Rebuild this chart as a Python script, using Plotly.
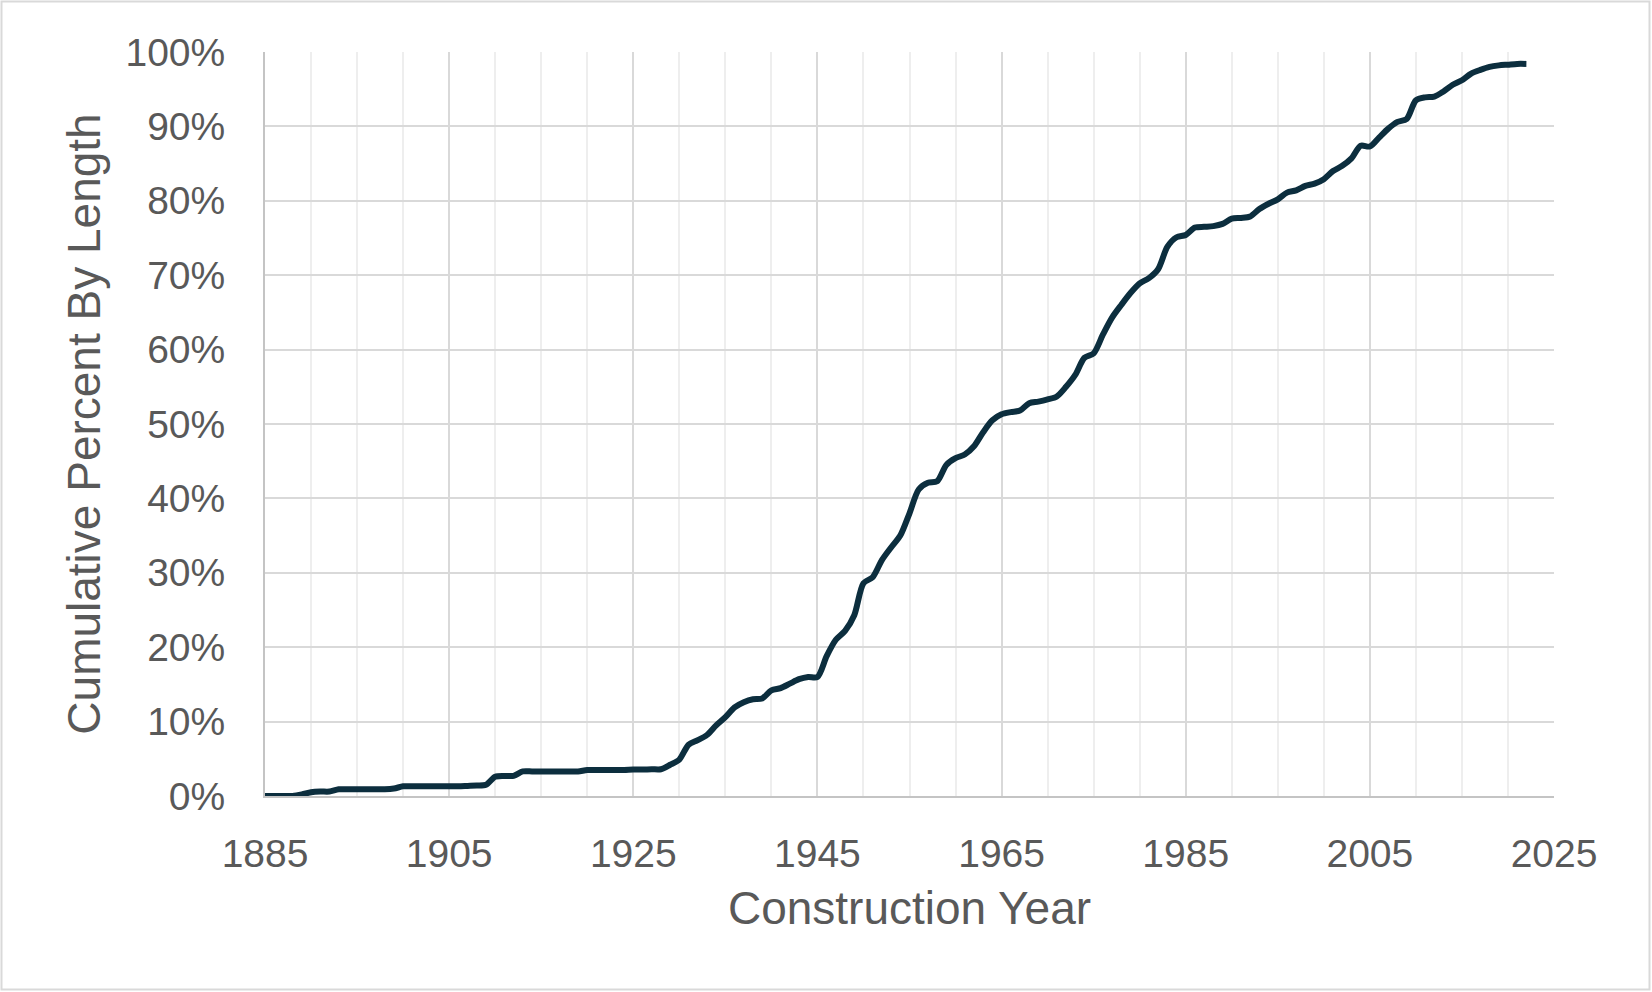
import plotly.graph_objects as go

years = list(range(1885, 2023))
cum_pct = [
    0.0, 0.0, 0.0, 0.0, 0.2, 0.5, 0.6, 0.6, 0.9, 0.9,   # 1885-1894
    0.9, 0.9, 0.9, 0.9, 1.0, 1.3, 1.3, 1.3, 1.3, 1.3,   # 1895-1904
    1.3, 1.3, 1.35, 1.4, 1.5, 2.6, 2.7, 2.7, 3.3, 3.3,  # 1905-1914
    3.3, 3.3, 3.3, 3.3, 3.3, 3.5, 3.5, 3.5, 3.5, 3.5,   # 1915-1924
    3.55, 3.55, 3.6, 3.6, 4.2, 4.9, 6.9, 7.5, 8.2, 9.5, # 1925-1934
    10.6, 11.9, 12.6, 13.0, 13.1, 14.2, 14.5, 15.1, 15.7, 16.0,  # 1935-1944
    16.0, 18.8, 21.0, 22.2, 24.3, 28.6, 29.4, 31.7, 33.4, 35.0,  # 1945-1954
    38.0, 41.2, 42.1, 42.3, 44.5, 45.4, 45.9, 47.0, 48.9, 50.5,  # 1955-1964
    51.3, 51.6, 51.8, 52.8, 53.0, 53.3, 53.7, 55.0, 56.6, 58.9,  # 1965-1974
    59.5, 62.0, 64.3, 66.0, 67.6, 68.9, 69.6, 70.8, 73.8, 75.1,  # 1975-1984
    75.4, 76.4, 76.5, 76.6, 76.9, 77.6, 77.7, 77.9, 78.9, 79.6,  # 1985-1994
    80.2, 81.1, 81.4, 82.0, 82.3, 82.9, 84.0, 84.7, 85.7, 87.4,  # 1995-2004
    87.3, 88.5, 89.7, 90.6, 91.0, 93.5, 93.9, 94.0, 94.7, 95.6,  # 2005-2014
    96.2, 97.1, 97.6, 98.0, 98.2, 98.3, 98.4, 98.4,              # 2015-2022
]
x_ticks = [1885, 1905, 1925, 1945, 1965, 1985, 2005, 2025]
y_ticks = [0, 10, 20, 30, 40, 50, 60, 70, 80, 90, 100]
y_tick_labels = [f"{v}%" for v in y_ticks]

W, H = 1652, 992
ML, MR, MT, MB = 265, 98, 52, 196

fig = go.Figure()
fig.add_trace(go.Scatter(
    x=years, y=cum_pct, mode="lines",
    line=dict(color="#0c2e3e", width=6, shape="spline", smoothing=0.8),
    showlegend=False, hoverinfo="skip",
))

font_color = "#595959"
fig.update_layout(
    width=W, height=H,
    margin=dict(l=ML, r=MR, t=MT, b=MB),
    paper_bgcolor="white", plot_bgcolor="white",
    font=dict(family="Liberation Sans, Arial, sans-serif", color=font_color),
    showlegend=False,
)
fig.update_xaxes(
    range=[1885, 2025], tickvals=x_ticks, ticktext=[str(v) for v in x_ticks],
    tickfont=dict(size=39, color=font_color),
    showgrid=True, gridcolor="#d9d9d9", gridwidth=2,
    minor=dict(dtick=5, tick0=1885, showgrid=True, gridcolor="#eeeeee", gridwidth=2),
    showline=True, linecolor="#c4c4c4", linewidth=2,
    zeroline=False, ticks="", ticklabelstandoff=22,
    title=dict(text="Construction Year", font=dict(size=46, color=font_color), standoff=18),
)
fig.update_yaxes(
    range=[0, 100], tickvals=y_ticks, ticktext=y_tick_labels,
    tickfont=dict(size=39, color=font_color),
    showgrid=True, gridcolor="#d9d9d9", gridwidth=2,
    showline=True, linecolor="#c4c4c4", linewidth=2,
    zeroline=False, ticks="", ticklabelstandoff=30,
    title=dict(text="Cumulative Percent By Length", font=dict(size=46, color=font_color), standoff=10),
)

# outer chart border
pw = W - ML - MR
ph = H - MT - MB
fig.add_shape(
    type="rect", xref="paper", yref="paper",
    x0=(1.5 - ML) / pw, x1=(W - 2.5 - ML) / pw,
    y0=-(H - 2.5 - MT - ph) / ph, y1=1 + (MT - 1.5) / ph,
    line=dict(color="#d9d9d9", width=2), fillcolor="rgba(0,0,0,0)", layer="below",
)

fig.write_html(
    "out.html",
    config={"displayModeBar": False},
    post_script="document.body.style.margin='0';document.body.style.overflow='hidden';",
)
